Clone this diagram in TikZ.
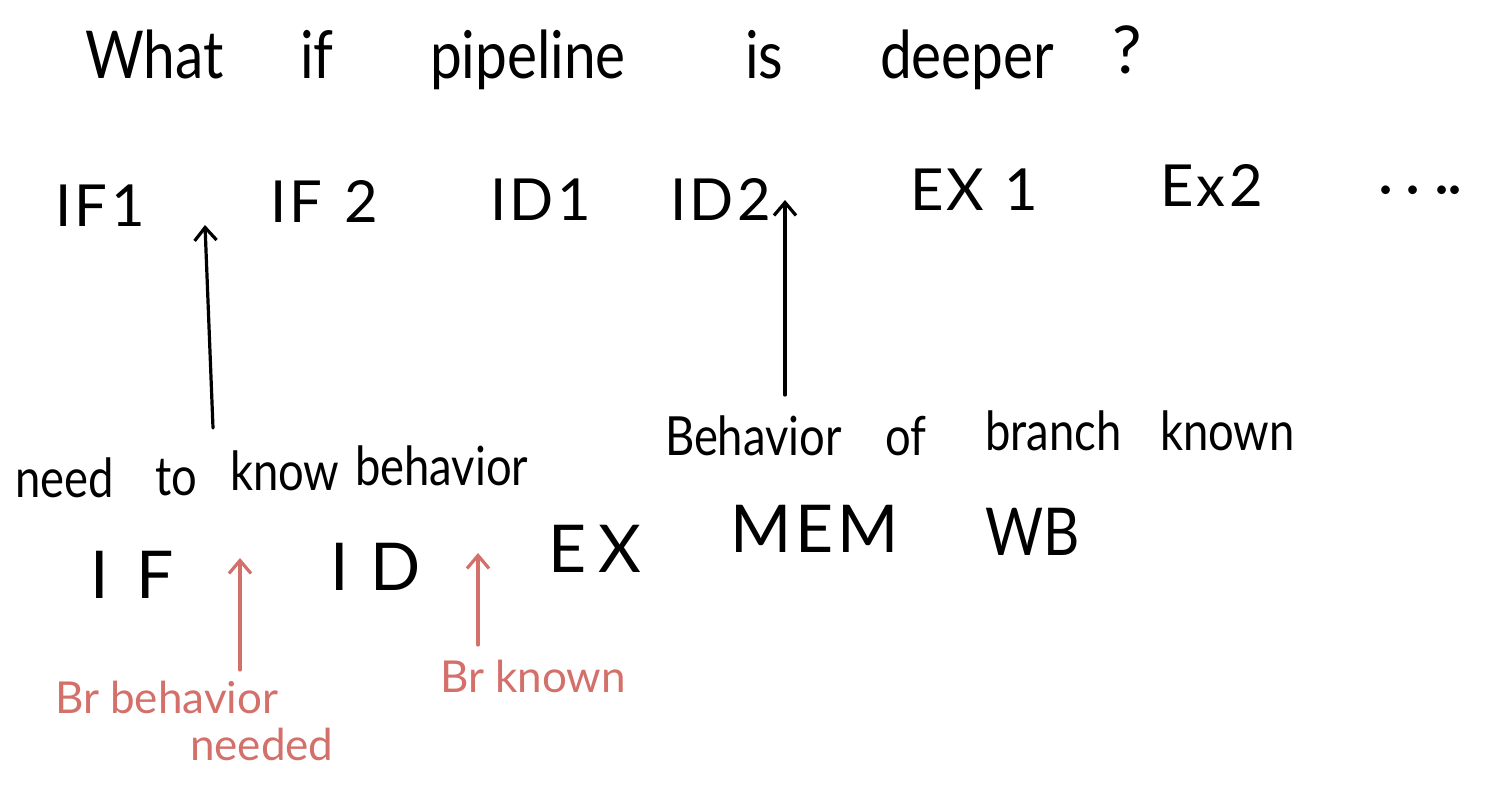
\documentclass[tikz,border=0pt]{standalone}
\usepackage{fontspec}
\setmainfont{Lato}
\usetikzlibrary{arrows.meta}
\definecolor{redink}{HTML}{D4706A}
\newcommand{\narrow}[1]{\scalebox{0.86}[1]{#1}}
\newcommand{\slim}[1]{\scalebox{0.84}[1]{#1}}
\tikzset{
  every node/.style={inner sep=0pt, outer sep=0pt},
  title/.style={anchor=base west, font=\fontsize{66}{70}\selectfont},
  stage/.style={anchor=base west, font=\fontsize{58}{62}\selectfont\addfontfeatures{LetterSpace=6}},
  big/.style={anchor=base west, font=\fontsize{66}{70}\selectfont},
  note/.style={anchor=base west, font=\fontsize{54}{58}\selectfont},
  rednote/.style={anchor=base west, text=redink, font=\fontsize{44}{48}\selectfont},
  arr/.style={-{Straight Barb[length=13pt,width=22pt]}, line width=3.2pt, line cap=round},
  redarr/.style={arr, draw=redink}
}
\begin{document}
\begin{tikzpicture}[x=1pt,y=-1pt]
\useasboundingbox (0,0) rectangle (1488,792);
% title
\node[title] (t1) at (85,78) {\narrow{What}};
\node[title] (t2) at (300,78) {\narrow{if}};
\node[title] (t3) at (430,78) {\narrow{pipeline}};
\node[title] (t4) at (745,78) {\narrow{is}};
\node[title] (t5) at (880,78) {\narrow{deeper}};
\node[title] (t6) at (1112,74) {?};
% deep pipeline stages
\node[stage] (s1) at (55,226) {IF1};
\node[stage] (s2) at (270,222) {IF\hspace{22pt}2};
\node[stage] (s3) at (490,220) {ID1};
\node[stage] (s4) at (670,220) {ID2};
\node[stage] (s5) at (910,210) {EX\hspace{20pt}1};
\node[stage] (s6) at (1160,206) {Ex2};
\node[stage] (s7) at (1378,207) {·\hspace{12pt}·\hspace{14pt}·\hspace{-2pt}·};
% notes
\node[note] (n1a) at (15,497) {\slim{need}};
\node[note] (n1b) at (155,495) {\slim{to}};
\node[note] (n1c) at (230,490) {\slim{know}};
\node[note] (n1d) at (355,485) {\slim{behavior}};
\node[note] (n2a) at (665,455) {\slim{Behavior}};
\node[note] (n2b) at (885,455) {\slim{of}};
\node[note] (n2c) at (985,450) {\slim{branch}};
\node[note] (n2d) at (1160,450) {\slim{known}};
\coordinate (a1s) at (213,428);
\coordinate (a1e) at (205,225);
\coordinate (a2s) at (785,395);
\coordinate (a2e) at (785,200);
\draw[arr] (a1s) -- (a1e);
\draw[arr] (a2s) -- (a2e);
% classic pipeline
\node[big] (p1) at (90,598) {I\hspace{28pt}F};
\node[big] (p2) at (330,590) {I\hspace{22pt}D};
\node[big] (p3) at (548,572) {E\hspace{12pt}X};
\node[big] (p4) at (730,552) {\addfontfeatures{LetterSpace=6}MEM};
\node[big] (p5) at (985,555) {\scalebox{0.85}[1]{WB}};
% red notes
\node[rednote] (r1) at (55,713) {Br behavior};
\node[rednote] (r2) at (190,760) {needed};
\node[rednote] (r3) at (440,692) {Br known};
\coordinate (b1s) at (240,670);
\coordinate (b1e) at (240,558);
\coordinate (b2s) at (478,645);
\coordinate (b2e) at (478,553);
\draw[redarr] (b1s) -- (b1e);
\draw[redarr] (b2s) -- (b2e);
\end{tikzpicture}
\end{document}
